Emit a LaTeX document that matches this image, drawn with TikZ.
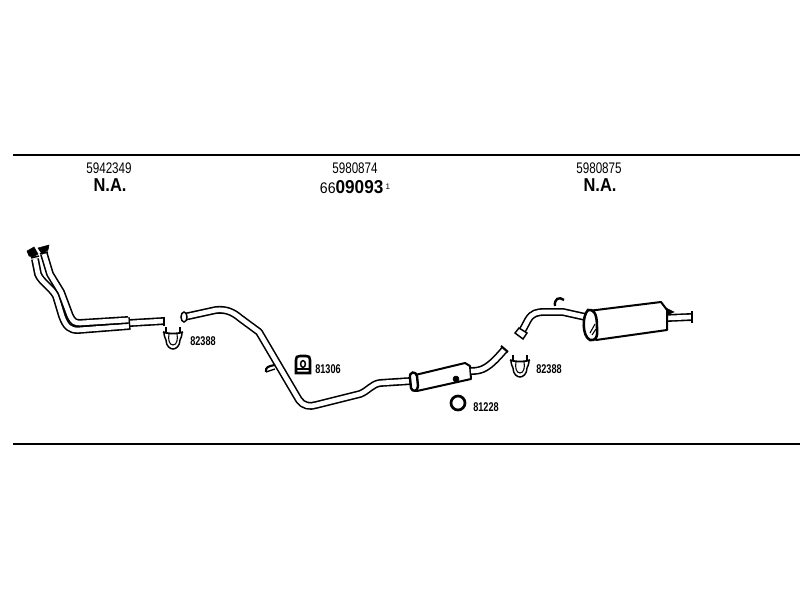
\documentclass[tikz,border=0pt]{standalone}
\usepackage{fontspec}
\setmainfont{Liberation Sans}
\tikzset{
  pipe/.style={draw=black,line width=1.2pt,double=white,double distance=3.5pt,line join=round},
  can/.style={draw=black,line width=1.5pt,fill=white,line join=round},
  partno/.style={font=\fontsize{11.5}{12}\selectfont,inner sep=0pt},
  bignote/.style={font=\fontsize{14}{14}\selectfont\bfseries,inner sep=0pt},
  smallno/.style={font=\fontsize{9.5}{10}\selectfont\bfseries,inner sep=0pt},
  clamp/.pic={
    \draw [line width=1.1pt] (-9,5) .. controls (-9,1) and (-8,-1) .. (-7,-3) .. controls (-7,-9) and (-3,-12) .. (0,-12) .. controls (3,-12) and (7,-9) .. (7,-3) .. controls (8,-1) and (9,1) .. (9,5) ;
    \draw [line width=0.8pt] (-4,3) .. controls (-5,-2) and (-4,-8) .. (0,-8) .. controls (4,-8) and (5,-2) .. (4,3) ;
    \draw [line width=1.3pt] (-10,5) .. controls (-5,3) and (5,3) .. (10,5) ;
    \draw [line width=1.8pt] (-7,4) -- (-7,10) ;
    \draw [line width=1.8pt] (7,4) -- (7,10) ;
  }
}
\begin{document}
\begin{tikzpicture}[x=0.75pt,y=0.75pt,yscale=-1,xscale=1]
\useasboundingbox (0,0) rectangle (800,600);

%rules
\draw [line width=1.4pt] (13,155) -- (800,155) ;
\draw [line width=1.4pt] (13,444) -- (800,444) ;

%front pipe
\draw [pipe] (130,323) -- (164,321) ;
\draw [line width=1.4pt] (164,317) -- (164,326) ;
\draw [pipe] (35,259) -- (38,274) .. controls (41,282) and (52,288) .. (56,296) -- (62,316) .. controls (66,327) and (70,330) .. (78,330) -- (129,326) ;
\draw [pipe] (44,254) -- (50,274) -- (61,292) -- (70,316) .. controls (73,322) and (75,323) .. (80,323) -- (128,320) ;
\draw [line width=1pt] (129,317) -- (130,330) ;
\draw [fill=black] (27,251) -- (34,247) -- (38,254) -- (33,257) -- (29,256) -- cycle ;
\draw [fill=black] (38,248) -- (49,245) -- (48,250) -- (42,254) -- cycle ;
\draw [line width=1.1pt] (31,258) -- (39,256) ;
\draw [line width=1.1pt] (40,254) -- (48,252) ;

%middle pipe
\draw [pipe] (184,317) -- (216,310) .. controls (226,309) and (233,312) .. (240,318) -- (259,332) -- (299,400) .. controls (303,406) and (310,407) .. (316,405) -- (360,394) .. controls (368,391) and (372,384) .. (380,383) -- (411,381) ;
\draw [line width=1.1pt,fill=white] (184,317) ellipse (3 and 5) ;
\draw [can] (411,376) -- (465,363) -- (470,366) -- (471,379) -- (417,391) -- (413,390) -- cycle ;
\draw [line width=1.8pt,fill=white] (410,378) .. controls (409,371) and (416,371) .. (417,376) -- (418,386) .. controls (418,392) and (412,392) .. (411,388) -- cycle ;
\draw [fill=black] (456,379) circle (3) ;
\draw [pipe] (471,371) .. controls (482,371) and (488,369) .. (505,349) ;
\draw [line width=1.6pt] (501,346) -- (508,352) ;

%rear pipe
\draw [pipe] (520,335) -- (528,320) .. controls (532,313) and (537,312) .. (545,312) -- (563,312) -- (590,318) ;
\draw [line width=1.1pt,fill=white] (515,333) -- (523,339) -- (527,333) -- (519,328) -- cycle ;
\draw [line width=1.8pt] (555,306) .. controls (554,299) and (559,296) .. (564,300) ;
\draw [pipe] (667,318) -- (691,317) ;
\draw [line width=1.8pt] (692,311) -- (692,323) ;
\draw [fill=black] (666,308) -- (674,312) -- (667,315) -- cycle ;
\draw [can] (588,311) -- (661,302) -- (667,310) -- (667,330) -- (596,340) -- cycle ;
\draw [line width=1.9pt,fill=white] (588,310) .. controls (582,316) and (582,336) .. (590,340) .. controls (595,341) and (598,338) .. (597,328) .. controls (597,318) and (596,309) .. (588,310) -- cycle ;
\draw [line width=0.8pt] (590,333) -- (595,324) ;
\draw [line width=0.8pt] (592,335) -- (596,329) ;

%small parts
\pic at (173,337) {clamp};
\pic at (520,365) {clamp};
\draw [line width=1.9pt] (296,373) -- (296,360) .. controls (296,357) and (297,356) .. (300,356) -- (306,356) .. controls (309,356) and (310,357) .. (310,360) -- (310,373) -- cycle ;
\draw [line width=1.1pt] (303,364) ellipse (2.4 and 3.4) ;
\draw [line width=0.9pt] (297,369) -- (309,369) ;
\draw [line width=2pt] (458,403) circle (7) ;
\draw [line width=1.6pt] (266,372) .. controls (265,367) and (269,366) .. (275,365) ;
\draw [line width=1pt] (266,372) -- (275,369) ;

%labels
\node [partno] (partA) at (109,168) {\scalebox{0.76}[1]{5942349}};
\node [bignote] (noteA) at (110,185) {\scalebox{0.88}[1]{N.A.}};
\node [partno] (partB) at (355,168) {\scalebox{0.76}[1]{5980874}};
\node [inner sep=0pt] (noteB) at (355,187) {\scalebox{0.92}[1]{\fontsize{11.5}{14}\selectfont 66\fontsize{14}{14}\selectfont\bfseries 09093}\,\raisebox{3pt}{\fontsize{6}{6}\selectfont 1}};
\node [partno] (partC) at (599,168) {\scalebox{0.76}[1]{5980875}};
\node [bignote] (noteC) at (600,185) {\scalebox{0.88}[1]{N.A.}};
\node [smallno] (clampA) at (203,341) {\scalebox{0.72}[1]{82388}};
\node [smallno] (mount) at (328,369) {\scalebox{0.72}[1]{81306}};
\node [smallno] (ring) at (486,407) {\scalebox{0.72}[1]{81228}};
\node [smallno] (clampB) at (549,369) {\scalebox{0.72}[1]{82388}};

\end{tikzpicture}
\end{document}
